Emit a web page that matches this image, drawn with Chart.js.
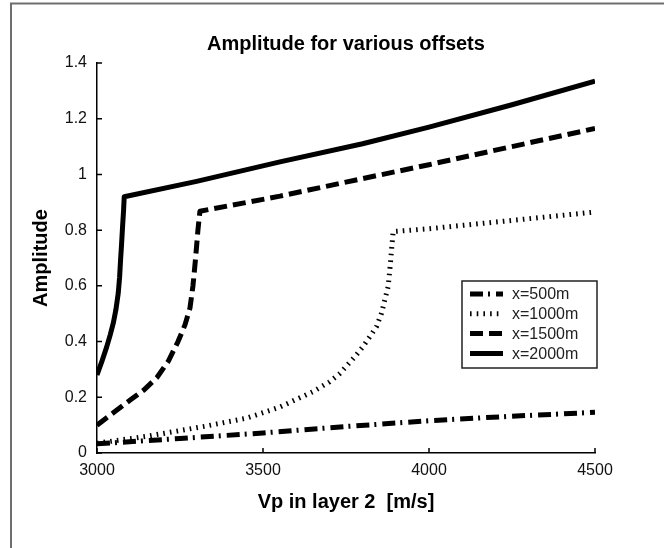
<!DOCTYPE html>
<html>
<head>
<meta charset="utf-8">
<script src="https://cdn.jsdelivr.net/npm/chart.js@4"></script>
<style>
html,body{margin:0;padding:0;background:#fff;}
#wrap{width:664px;height:548px;position:relative;}
</style>
</head>
<body>
<div id="wrap"><canvas id="c" width="664" height="548"></canvas></div>
<script>
// ---- data ----
const chartTitle = 'Amplitude for various offsets';
const xTitle = 'Vp in layer 2  [m/s]';
const yTitle = 'Amplitude';
const seriesLabels = ['x=500m', 'x=1000m', 'x=1500m', 'x=2000m'];
const xTickLabels = ['3000', '3500', '4000', '4500'];
const yTickLabels = ['0', '0.2', '0.4', '0.6', '0.8', '1', '1.2', '1.4'];

const vp500  = [3000, 3250, 3500, 3750, 4000, 4250, 4500];
const amp500 = [0.033, 0.052, 0.072, 0.095, 0.116, 0.132, 0.146];

const vp1000  = [3000, 3150, 3330, 3450, 3551, 3650, 3700, 3732, 3777, 3800, 3822, 3842, 3857, 3867, 3877, 3883, 3888, 3892, 4000, 4250, 4500];
const amp1000 = [0.035, 0.060, 0.097, 0.125, 0.165, 0.220, 0.255, 0.286, 0.346, 0.380, 0.418, 0.454, 0.502, 0.550, 0.598, 0.670, 0.741, 0.795, 0.805, 0.835, 0.865];

const vp1500  = [3000, 3050, 3100, 3140, 3180, 3215, 3244, 3265, 3280, 3289, 3297, 3304, 3310, 3551, 3800, 4000, 4250, 4500];
const amp1500 = [0.100, 0.145, 0.190, 0.225, 0.270, 0.330, 0.400, 0.460, 0.520, 0.600, 0.700, 0.800, 0.868, 0.922, 0.985, 1.035, 1.100, 1.165];

const vp2000  = [3000, 3015, 3029, 3040, 3049, 3057, 3064, 3068, 3071, 3074, 3077, 3080, 3082, 3300, 3551, 3800, 4000, 4250, 4500];
const amp2000 = [0.280, 0.330, 0.380, 0.425, 0.466, 0.515, 0.574, 0.630, 0.693, 0.750, 0.813, 0.870, 0.920, 0.975, 1.045, 1.110, 1.170, 1.250, 1.335];

const pts = (xs, ys) => xs.map((v, i) => ({x: v, y: ys[i]}));
const FONT = '"Liberation Sans", Arial, Helvetica, sans-serif';

const frame = {
  id: 'frame',
  beforeDraw(chart) {
    const ctx = chart.ctx;
    ctx.save();
    ctx.strokeStyle = '#6e6e6e';
    ctx.lineWidth = 2;
    ctx.beginPath();
    ctx.moveTo(11, 548); ctx.lineTo(11, 3.5); ctx.lineTo(664, 3.5);
    ctx.stroke();
    ctx.restore();
  }
};

const inTicks = {
  id: 'inTicks',
  afterDraw(chart) {
    const ctx = chart.ctx, xs = chart.scales.x, ys = chart.scales.y, a = chart.chartArea;
    ctx.save();
    ctx.strokeStyle = '#000';
    ctx.lineWidth = 1.5;
    ctx.beginPath();
    ys.ticks.forEach((t, i) => { const p = ys.getPixelForTick(i); ctx.moveTo(a.left, p); ctx.lineTo(a.left + 5, p); });
    xs.ticks.forEach((t, i) => { const p = xs.getPixelForTick(i); ctx.moveTo(p, a.bottom); ctx.lineTo(p, a.bottom - 5); });
    ctx.stroke();
    ctx.restore();
  }
};

const boxLegend = {
  id: 'boxLegend',
  afterDraw(chart) {
    const ctx = chart.ctx;
    const x0 = 462, y0 = 281, w = 135, h = 87;
    ctx.save();
    ctx.fillStyle = '#fff';
    ctx.fillRect(x0, y0, w, h);
    ctx.strokeStyle = '#222';
    ctx.lineWidth = 1.5;
    ctx.strokeRect(x0, y0, w, h);
    chart.data.datasets.forEach((ds, i) => {
      const y = y0 + 13 + i * 19.8;
      ctx.beginPath();
      ctx.setLineDash(ds.borderDash || []);
      ctx.lineWidth = ds.borderWidth;
      ctx.lineCap = 'butt';
      ctx.strokeStyle = ds.borderColor;
      ctx.moveTo(x0 + 8, y); ctx.lineTo(x0 + 41, y);
      ctx.stroke();
      ctx.setLineDash([]);
      ctx.fillStyle = '#222';
      ctx.font = '16px ' + FONT;
      ctx.textBaseline = 'middle';
      ctx.textAlign = 'left';
      ctx.fillText(ds.label, x0 + 50, y + 1);
    });
    ctx.restore();
  }
};

const common = {borderColor: '#000', borderWidth: 5, pointRadius: 0, fill: false,
  tension: 0, borderCapStyle: 'butt', borderJoinStyle: 'round'};

new Chart(document.getElementById('c'), {
  type: 'line',
  data: {
    datasets: [
      Object.assign({label: seriesLabels[0], data: pts(vp500, amp500), borderDash: [13, 5, 2, 6]}, common),
      Object.assign({label: seriesLabels[1], data: pts(vp1000, amp1000), borderDash: [1.6, 5.1]}, common),
      Object.assign({label: seriesLabels[2], data: pts(vp1500, amp1500), borderDash: [13, 6]}, common),
      Object.assign({label: seriesLabels[3], data: pts(vp2000, amp2000), borderDash: []}, common)
    ]
  },
  options: {
    responsive: false,
    animation: false,
    devicePixelRatio: 1,
    layout: {padding: {left: 0, right: 69, top: 0, bottom: 0}},
    plugins: {
      legend: {display: false},
      tooltip: {enabled: false},
      title: {
        display: true, text: chartTitle, fullSize: false,
        color: '#000', font: {family: FONT, size: 20, weight: 'bold'},
        padding: {top: 32, bottom: 7}
      }
    },
    scales: {
      x: {
        type: 'linear', min: 3000, max: 4500,
        afterFit(s) { s.height = 95; },
        grid: {display: true, drawOnChartArea: false, drawTicks: false, color: 'rgba(0,0,0,0)'},
        border: {display: true, color: '#000', width: 1.5},
        ticks: {stepSize: 500, padding: 8, color: '#111', font: {family: FONT, size: 16},
          maxRotation: 0, callback: (v, i) => xTickLabels[i]},
        title: {display: true, text: xTitle, color: '#000', font: {family: FONT, size: 20, weight: 'bold'},
          padding: {top: 0, bottom: 34}}
      },
      y: {
        type: 'linear', min: 0, max: 1.4,
        afterFit(s) { s.width = 97; },
        grid: {display: true, drawOnChartArea: false, drawTicks: false, color: 'rgba(0,0,0,0)'},
        border: {display: true, color: '#000', width: 1.5},
        ticks: {stepSize: 0.2, padding: 10, color: '#111', font: {family: FONT, size: 16},
          callback: (v) => yTickLabels[Math.round(v / 0.2)]},
        title: {display: true, text: yTitle, color: '#000', font: {family: FONT, size: 20, weight: 'bold'},
          padding: {top: 29, bottom: 0}}
      }
    }
  },
  plugins: [frame, inTicks, boxLegend]
});
</script>
</body>
</html>
